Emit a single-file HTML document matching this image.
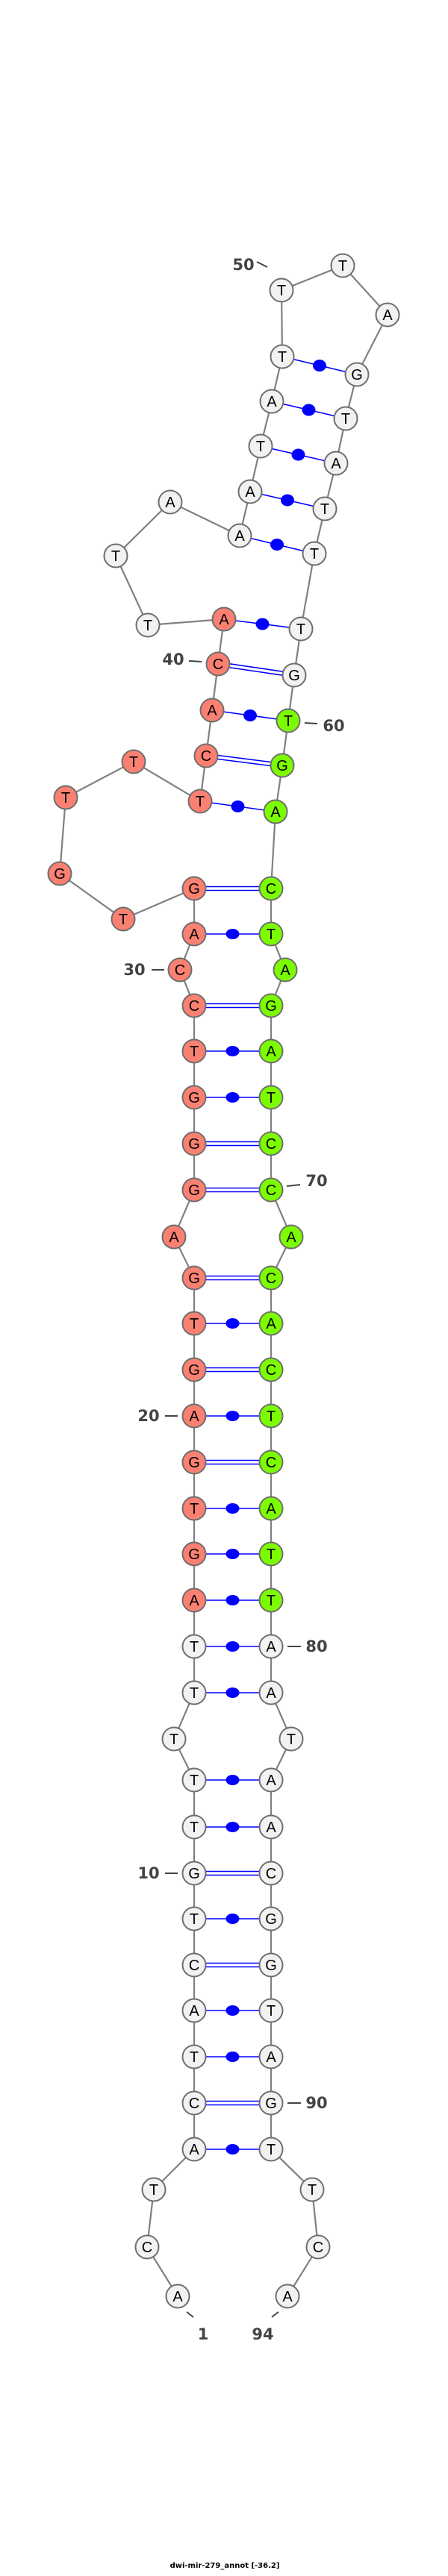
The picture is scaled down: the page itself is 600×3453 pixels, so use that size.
<!DOCTYPE html>
<html><head><meta charset="utf-8"><style>html,body{margin:0;padding:0;background:#fff}svg{display:block}</style></head>
<body>
<svg width="600" height="3453" viewBox="0 0 600 3453" xmlns="http://www.w3.org/2000/svg">
<g fill="none" stroke="#808080" stroke-width="2.2">
<polyline points="238,3078 197,3012 206,2935 260,2881 260,2819 260,2757 260,2695 260,2634 260,2572 260,2511 260,2449 260,2386 233,2331 260,2269 260,2207 260,2145 260,2083 260,2022 260,1960 260,1898 260,1836 260,1774 260,1713 233,1658 260,1595 260,1533 260,1471 260,1409 260,1348 241,1300 260,1252 260,1191 165,1232 80,1171 88,1069 179,1021 268,1074 276,1013 284,952 292,890 300,830 198,838 155,745 228,673 321,718 335,659 349,598 364,538 378,478 377,389 459,356 519,422 478,502 463,561 450,621 435,682 421,742 403,843 394,905 386,966 378,1026 369,1088 363,1191 363,1252 382,1300 363,1348 363,1409 363,1471 363,1533 363,1595 390,1658 363,1713 363,1774 363,1836 363,1898 363,1960 363,2022 363,2083 363,2145 363,2207 363,2269 390,2331 363,2386 363,2449 363,2511 363,2572 363,2634 363,2695 363,2757 363,2819 363,2881 418,2935 426,3012 385,3078"/>
</g>
<g stroke="#0000ff" stroke-width="1.6" fill="none">
<!-- single (dot) pairs -->
<line x1="260" y1="2881" x2="363" y2="2881"/><line x1="260" y1="2757" x2="363" y2="2757"/><line x1="260" y1="2695" x2="363" y2="2695"/><line x1="260" y1="2572" x2="363" y2="2572"/><line x1="260" y1="2449" x2="363" y2="2449"/><line x1="260" y1="2386" x2="363" y2="2386"/><line x1="260" y1="2269" x2="363" y2="2269"/><line x1="260" y1="2207" x2="363" y2="2207"/><line x1="260" y1="2145" x2="363" y2="2145"/><line x1="260" y1="2083" x2="363" y2="2083"/><line x1="260" y1="2022" x2="363" y2="2022"/><line x1="260" y1="1898" x2="363" y2="1898"/><line x1="260" y1="1774" x2="363" y2="1774"/><line x1="260" y1="1471" x2="363" y2="1471"/><line x1="260" y1="1409" x2="363" y2="1409"/><line x1="260" y1="1252" x2="363" y2="1252"/>
<line x1="268" y1="1074" x2="369" y2="1088"/><line x1="284" y1="952" x2="386" y2="966"/><line x1="300" y1="830" x2="403" y2="843"/><line x1="321" y1="718" x2="421" y2="742"/><line x1="335" y1="659" x2="435" y2="682"/><line x1="349" y1="598" x2="450" y2="621"/><line x1="364" y1="538" x2="463" y2="561"/><line x1="378" y1="478" x2="478" y2="502"/>
<!-- double pairs -->
<g>
<line x1="260" y1="2816.5" x2="363" y2="2816.5"/><line x1="260" y1="2821.5" x2="363" y2="2821.5"/>
<line x1="260" y1="2631.5" x2="363" y2="2631.5"/><line x1="260" y1="2636.5" x2="363" y2="2636.5"/>
<line x1="260" y1="2508.5" x2="363" y2="2508.5"/><line x1="260" y1="2513.5" x2="363" y2="2513.5"/>
<line x1="260" y1="1957.5" x2="363" y2="1957.5"/><line x1="260" y1="1962.5" x2="363" y2="1962.5"/>
<line x1="260" y1="1833.5" x2="363" y2="1833.5"/><line x1="260" y1="1838.5" x2="363" y2="1838.5"/>
<line x1="260" y1="1710.5" x2="363" y2="1710.5"/><line x1="260" y1="1715.5" x2="363" y2="1715.5"/>
<line x1="260" y1="1592.5" x2="363" y2="1592.5"/><line x1="260" y1="1597.5" x2="363" y2="1597.5"/>
<line x1="260" y1="1530.5" x2="363" y2="1530.5"/><line x1="260" y1="1535.5" x2="363" y2="1535.5"/>
<line x1="260" y1="1345.5" x2="363" y2="1345.5"/><line x1="260" y1="1350.5" x2="363" y2="1350.5"/>
<line x1="260" y1="1188.5" x2="363" y2="1188.5"/><line x1="260" y1="1193.5" x2="363" y2="1193.5"/>
<line x1="276" y1="1010.5" x2="378" y2="1023.5"/><line x1="276" y1="1015.5" x2="378" y2="1028.5"/>
<line x1="292" y1="887.5" x2="394" y2="902.5"/><line x1="292" y1="892.5" x2="394" y2="907.5"/>
</g>
</g>
<g fill="#0000ff">
<ellipse cx="311.5" cy="2881" rx="9" ry="7"/><ellipse cx="311.5" cy="2757" rx="9" ry="7"/><ellipse cx="311.5" cy="2695" rx="9" ry="7"/><ellipse cx="311.5" cy="2572" rx="9" ry="7"/><ellipse cx="311.5" cy="2449" rx="9" ry="7"/><ellipse cx="311.5" cy="2386" rx="9" ry="7"/><ellipse cx="311.5" cy="2269" rx="9" ry="7"/><ellipse cx="311.5" cy="2207" rx="9" ry="7"/><ellipse cx="311.5" cy="2145" rx="9" ry="7"/><ellipse cx="311.5" cy="2083" rx="9" ry="7"/><ellipse cx="311.5" cy="2022" rx="9" ry="7"/><ellipse cx="311.5" cy="1898" rx="9" ry="7"/><ellipse cx="311.5" cy="1774" rx="9" ry="7"/><ellipse cx="311.5" cy="1471" rx="9" ry="7"/><ellipse cx="311.5" cy="1409" rx="9" ry="7"/><ellipse cx="311.5" cy="1252" rx="9" ry="7"/>
<ellipse cx="318.5" cy="1081" rx="9" ry="8"/><ellipse cx="335" cy="959" rx="9" ry="8"/><ellipse cx="351.5" cy="836.5" rx="9" ry="8"/><ellipse cx="371" cy="730" rx="9" ry="8"/><ellipse cx="385" cy="670.5" rx="9" ry="8"/><ellipse cx="399.5" cy="609.5" rx="9" ry="8"/><ellipse cx="413.5" cy="549.5" rx="9" ry="8"/><ellipse cx="428" cy="490" rx="9" ry="8"/>
</g>
<g stroke="#6e6e6e" stroke-width="2">
<g fill="#f2f2f2">
<circle cx="238" cy="3078" r="15.5"/><circle cx="197" cy="3012" r="15.5"/><circle cx="206" cy="2935" r="15.5"/><circle cx="260" cy="2881" r="15.5"/><circle cx="260" cy="2819" r="15.5"/><circle cx="260" cy="2757" r="15.5"/><circle cx="260" cy="2695" r="15.5"/><circle cx="260" cy="2634" r="15.5"/><circle cx="260" cy="2572" r="15.5"/><circle cx="260" cy="2511" r="15.5"/><circle cx="260" cy="2449" r="15.5"/><circle cx="260" cy="2386" r="15.5"/><circle cx="233" cy="2331" r="15.5"/><circle cx="260" cy="2269" r="15.5"/><circle cx="260" cy="2207" r="15.5"/>
<circle cx="198" cy="838" r="15.5"/><circle cx="155" cy="745" r="15.5"/><circle cx="228" cy="673" r="15.5"/><circle cx="321" cy="718" r="15.5"/><circle cx="335" cy="659" r="15.5"/><circle cx="349" cy="598" r="15.5"/><circle cx="364" cy="538" r="15.5"/><circle cx="378" cy="478" r="15.5"/><circle cx="377" cy="389" r="15.5"/><circle cx="459" cy="356" r="15.5"/><circle cx="519" cy="422" r="15.5"/><circle cx="478" cy="502" r="15.5"/><circle cx="463" cy="561" r="15.5"/><circle cx="450" cy="621" r="15.5"/><circle cx="435" cy="682" r="15.5"/><circle cx="421" cy="742" r="15.5"/><circle cx="403" cy="843" r="15.5"/><circle cx="394" cy="905" r="15.5"/>
<circle cx="363" cy="2207" r="15.5"/><circle cx="363" cy="2269" r="15.5"/><circle cx="390" cy="2331" r="15.5"/><circle cx="363" cy="2386" r="15.5"/><circle cx="363" cy="2449" r="15.5"/><circle cx="363" cy="2511" r="15.5"/><circle cx="363" cy="2572" r="15.5"/><circle cx="363" cy="2634" r="15.5"/><circle cx="363" cy="2695" r="15.5"/><circle cx="363" cy="2757" r="15.5"/><circle cx="363" cy="2819" r="15.5"/><circle cx="363" cy="2881" r="15.5"/><circle cx="418" cy="2935" r="15.5"/><circle cx="426" cy="3012" r="15.5"/><circle cx="385" cy="3078" r="15.5"/>
</g>
<g fill="#fa8072">
<circle cx="260" cy="2145" r="15.5"/><circle cx="260" cy="2083" r="15.5"/><circle cx="260" cy="2022" r="15.5"/><circle cx="260" cy="1960" r="15.5"/><circle cx="260" cy="1898" r="15.5"/><circle cx="260" cy="1836" r="15.5"/><circle cx="260" cy="1774" r="15.5"/><circle cx="260" cy="1713" r="15.5"/><circle cx="233" cy="1658" r="15.5"/><circle cx="260" cy="1595" r="15.5"/><circle cx="260" cy="1533" r="15.5"/><circle cx="260" cy="1471" r="15.5"/><circle cx="260" cy="1409" r="15.5"/><circle cx="260" cy="1348" r="15.5"/><circle cx="241" cy="1300" r="15.5"/><circle cx="260" cy="1252" r="15.5"/><circle cx="260" cy="1191" r="15.5"/><circle cx="165" cy="1232" r="15.5"/><circle cx="80" cy="1171" r="15.5"/><circle cx="88" cy="1069" r="15.5"/><circle cx="179" cy="1021" r="15.5"/><circle cx="268" cy="1074" r="15.5"/><circle cx="276" cy="1013" r="15.5"/><circle cx="284" cy="952" r="15.5"/><circle cx="292" cy="890" r="15.5"/><circle cx="300" cy="830" r="15.5"/>
</g>
<g fill="#7cfc00">
<circle cx="386" cy="966" r="15.5"/><circle cx="378" cy="1026" r="15.5"/><circle cx="369" cy="1088" r="15.5"/><circle cx="363" cy="1191" r="15.5"/><circle cx="363" cy="1252" r="15.5"/><circle cx="382" cy="1300" r="15.5"/><circle cx="363" cy="1348" r="15.5"/><circle cx="363" cy="1409" r="15.5"/><circle cx="363" cy="1471" r="15.5"/><circle cx="363" cy="1533" r="15.5"/><circle cx="363" cy="1595" r="15.5"/><circle cx="390" cy="1658" r="15.5"/><circle cx="363" cy="1713" r="15.5"/><circle cx="363" cy="1774" r="15.5"/><circle cx="363" cy="1836" r="15.5"/><circle cx="363" cy="1898" r="15.5"/><circle cx="363" cy="1960" r="15.5"/><circle cx="363" cy="2022" r="15.5"/><circle cx="363" cy="2083" r="15.5"/><circle cx="363" cy="2145" r="15.5"/>
</g>
</g>
<g font-family="Liberation Sans, sans-serif" font-size="20" fill="#000" text-anchor="middle" dominant-baseline="central">
<text x="238" y="3079">A</text><text x="197" y="3013">C</text><text x="206" y="2936">T</text><text x="260" y="2882">A</text><text x="260" y="2820">C</text><text x="260" y="2758">T</text><text x="260" y="2696">A</text><text x="260" y="2635">C</text><text x="260" y="2573">T</text><text x="260" y="2512">G</text><text x="260" y="2450">T</text><text x="260" y="2387">T</text><text x="233" y="2332">T</text><text x="260" y="2270">T</text><text x="260" y="2208">T</text><text x="260" y="2146">A</text><text x="260" y="2084">G</text><text x="260" y="2023">T</text><text x="260" y="1961">G</text><text x="260" y="1899">A</text><text x="260" y="1837">G</text><text x="260" y="1775">T</text><text x="260" y="1714">G</text><text x="233" y="1659">A</text><text x="260" y="1596">G</text><text x="260" y="1534">G</text><text x="260" y="1472">G</text><text x="260" y="1410">T</text><text x="260" y="1349">C</text><text x="241" y="1301">C</text><text x="260" y="1253">A</text><text x="260" y="1192">G</text><text x="165" y="1233">T</text><text x="80" y="1172">G</text><text x="88" y="1070">T</text><text x="179" y="1022">T</text><text x="268" y="1075">T</text><text x="276" y="1014">C</text><text x="284" y="953">A</text><text x="292" y="891">C</text><text x="300" y="831">A</text><text x="198" y="839">T</text><text x="155" y="746">T</text><text x="228" y="674">A</text><text x="321" y="719">A</text><text x="335" y="660">A</text><text x="349" y="599">T</text><text x="364" y="539">A</text><text x="378" y="479">T</text><text x="377" y="390">T</text><text x="459" y="357">T</text><text x="519" y="423">A</text><text x="478" y="503">G</text><text x="463" y="562">T</text><text x="450" y="622">A</text><text x="435" y="683">T</text><text x="421" y="743">T</text><text x="403" y="844">T</text><text x="394" y="906">G</text><text x="386" y="967">T</text><text x="378" y="1027">G</text><text x="369" y="1089">A</text><text x="363" y="1192">C</text><text x="363" y="1253">T</text><text x="382" y="1301">A</text><text x="363" y="1349">G</text><text x="363" y="1410">A</text><text x="363" y="1472">T</text><text x="363" y="1534">C</text><text x="363" y="1596">C</text><text x="390" y="1659">A</text><text x="363" y="1714">C</text><text x="363" y="1775">A</text><text x="363" y="1837">C</text><text x="363" y="1899">T</text><text x="363" y="1961">C</text><text x="363" y="2023">A</text><text x="363" y="2084">T</text><text x="363" y="2146">T</text><text x="363" y="2208">A</text><text x="363" y="2270">A</text><text x="390" y="2332">T</text><text x="363" y="2387">A</text><text x="363" y="2450">A</text><text x="363" y="2512">C</text><text x="363" y="2573">G</text><text x="363" y="2635">G</text><text x="363" y="2696">T</text><text x="363" y="2758">A</text><text x="363" y="2820">G</text><text x="363" y="2882">T</text><text x="418" y="2936">T</text><text x="426" y="3013">C</text><text x="385" y="3079">A</text>
</g>
<g stroke="#444" stroke-width="2">
<line x1="344" y1="351" x2="358" y2="358"/><line x1="253" y1="886" x2="270" y2="887"/><line x1="408" y1="969" x2="425" y2="970"/><line x1="203" y1="1300" x2="220" y2="1300"/><line x1="384" y1="1590" x2="402" y2="1588"/><line x1="221" y1="1898" x2="238" y2="1898"/><line x1="385" y1="2207" x2="403" y2="2207"/><line x1="221" y1="2511" x2="238" y2="2511"/><line x1="385" y1="2819" x2="403" y2="2819"/><line x1="250" y1="3099" x2="259" y2="3106"/><line x1="373" y1="3099" x2="364" y2="3106"/>
</g>
<g font-family="DejaVu Sans, Liberation Sans, sans-serif" font-size="21" font-weight="bold" fill="#444" text-anchor="middle" dominant-baseline="central">
<text x="326" y="355">50</text><text x="232" y="884">40</text><text x="447" y="973">60</text><text x="180" y="1300">30</text><text x="424" y="1583">70</text><text x="199" y="1898">20</text><text x="424" y="2207">80</text><text x="199" y="2511">10</text><text x="424" y="2819">90</text><text x="272" y="3129">1</text><text x="352" y="3129">94</text>
</g>
<text x="301" y="3442" font-family="DejaVu Sans, Liberation Sans, sans-serif" font-size="10" font-weight="bold" fill="#000" text-anchor="middle">dwi-mir-279_annot [-36.2]</text>
</svg>
</body></html>
